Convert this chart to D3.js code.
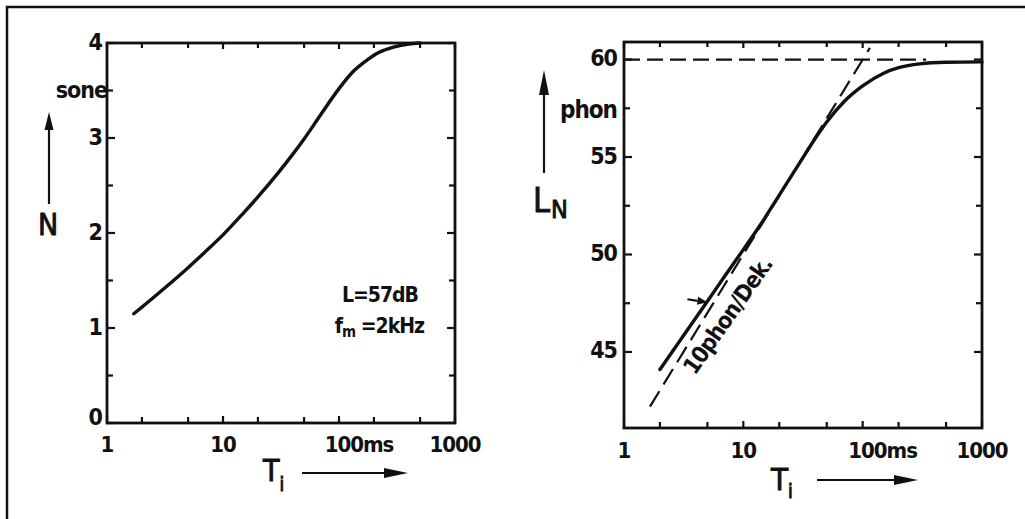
<!DOCTYPE html>
<html><head><meta charset="utf-8">
<script src="https://cdn.jsdelivr.net/npm/d3@7"></script>
<style>
body{margin:0;background:#fff}
svg{display:block}
text{font-family:"DejaVu Sans Condensed","DejaVu Sans",sans-serif;font-stretch:condensed;font-weight:bold;fill:#111}
text.sym{font-weight:normal;stroke:#111;stroke-width:0.9px}
</style></head><body>
<svg id="fig" width="1025" height="519"></svg>
<script>
// Loudness N (sone) versus integration time T_i, L = 57 dB, f_m = 2 kHz
const loudT = [1.7, 2, 3, 5, 7, 10, 15, 20, 30, 40, 50, 70, 100, 130, 170, 220, 300, 400, 500];
const loudN = [1.15, 1.22, 1.40, 1.635, 1.80, 1.98, 2.21, 2.38, 2.635, 2.83, 2.99, 3.25, 3.52, 3.69, 3.81, 3.90, 3.96, 3.99, 4.0];
// Loudness level L_N (phon) versus integration time
const levelT = [2, 3, 5, 7, 10, 14, 20, 30, 40, 50, 70, 100, 150, 200, 300, 500, 1000];
const levelL = [44.1, 45.65, 47.6, 48.9, 50.25, 51.55, 53.05, 54.75, 55.95, 56.8, 57.85, 58.65, 59.3, 59.58, 59.78, 59.86, 59.88];
// 60 phon asymptote and the 10 phon/decade slope line
const asymptoteL = 60, asymptoteEndT = 340;
const slopeT = [1.65, 115];
const slopeL = [42.2, 60.6];
// marker arrow pointing at the curve
const markerT = [3.4, 5.0], markerL = 47.6;

const xTicksMajor = [1, 10, 100, 1000];
const xTickLabels = ["1", "10", "100ms", "1000"];
const xTicksMinor = [2, 5, 20, 50, 200, 500];
const loudTicks = [0, 1, 2, 3, 4];
const loudMinor = [0.5, 1.5, 2.5, 3.5];
const levelTicks = [45, 50, 55, 60];
const levelMinor = [47.5, 52.5, 57.5];

const ink = "#111";
const svg = d3.select("#fig");

// outer frame (top and left edges)
svg.append("path").attr("d", "M7,519V7H1025")
  .attr("fill", "none").attr("stroke", ink).attr("stroke-width", 2.5);

function arrow(g, x1, y1, x2, y2, headLen, headW) {
  const a = Math.atan2(y2 - y1, x2 - x1);
  const bx = x2 - headLen * Math.cos(a), by = y2 - headLen * Math.sin(a);
  g.append("line").attr("x1", x1).attr("y1", y1).attr("x2", bx).attr("y2", by)
    .attr("stroke", ink).attr("stroke-width", 2.2);
  const px = -Math.sin(a) * headW / 2, py = Math.cos(a) * headW / 2;
  g.append("path").attr("d", `M${x2},${y2}L${bx + px},${by + py}L${bx - px},${by - py}Z`).attr("fill", ink);
}

function panel(opt) {
  const g = svg.append("g");
  const x = d3.scaleLog().domain([1, 1000]).range([opt.x0, opt.x1]);
  const y = d3.scaleLinear().domain(opt.yDomain).range([opt.y1, opt.y0]);

  // ticks on all four sides, pointing inward
  const tk = g.append("g").attr("stroke", ink).attr("stroke-width", 2.2);
  xTicksMajor.concat(xTicksMinor).forEach(v => {
    const len = xTicksMajor.includes(v) ? 7 : 6;
    tk.append("line").attr("x1", x(v)).attr("x2", x(v)).attr("y1", opt.y1).attr("y2", opt.y1 - len);
    tk.append("line").attr("x1", x(v)).attr("x2", x(v)).attr("y1", opt.y0).attr("y2", opt.y0 + len - 1);
  });
  opt.yTicks.concat(opt.yMinor).forEach(v => {
    const len = opt.yTicks.includes(v) ? 8 : 6;
    tk.append("line").attr("y1", y(v)).attr("y2", y(v)).attr("x1", opt.x0).attr("x2", opt.x0 + len);
    tk.append("line").attr("y1", y(v)).attr("y2", y(v)).attr("x1", opt.x1).attr("x2", opt.x1 - len);
  });

  g.append("rect").attr("x", opt.x0).attr("y", opt.y0)
    .attr("width", opt.x1 - opt.x0).attr("height", opt.y1 - opt.y0)
    .attr("fill", "none").attr("stroke", ink).attr("stroke-width", 2.8);

  // tick labels
  xTicksMajor.forEach((v, i) => {
    g.append("text").attr("x", x(v) + (i === 2 ? 20 : 0)).attr("y", opt.xLabelY)
      .attr("text-anchor", "middle").attr("font-size", 22).attr("letter-spacing", -1)
      .text(xTickLabels[i]);
  });
  opt.yTicks.forEach(v => {
    g.append("text").attr("x", opt.x0 - opt.yLabelGap).attr("y", y(v) + opt.yLabelDy(v))
      .attr("text-anchor", "end").attr("dominant-baseline", "middle")
      .attr("font-size", 23).attr("letter-spacing", -1).text(v);
  });
  return {g, x, y};
}

// ---- left panel: loudness in sone ----
const L = panel({x0: 107, x1: 455, y0: 43, y1: 423, yDomain: [0, 4],
  yTicks: loudTicks, yMinor: loudMinor, xLabelY: 452, yLabelGap: 5,
  yLabelDy: v => v === 0 ? -5 : 0});

L.g.append("path")
  .datum(loudT.map((t, i) => [t, loudN[i]]))
  .attr("d", d3.line().x(d => L.x(d[0])).y(d => L.y(d[1])).curve(d3.curveMonotoneX))
  .attr("fill", "none").attr("stroke", ink).attr("stroke-width", 3.4).attr("stroke-linecap", "round");

L.g.append("text").attr("x", 107).attr("y", 98).attr("text-anchor", "end")
  .attr("font-size", 23).attr("letter-spacing", -1).text("sone");
L.g.append("text").attr("class", "sym").attr("x", 48).attr("y", 235).attr("text-anchor", "middle")
  .attr("font-size", 30).text("N");
arrow(L.g, 49, 204, 49, 112, 18, 9);

L.g.append("text").attr("x", 418).attr("y", 302).attr("text-anchor", "end")
  .attr("font-size", 21).attr("letter-spacing", -1).text("L=57dB");
const fm = L.g.append("text").attr("x", 424).attr("y", 333).attr("text-anchor", "end")
  .attr("font-size", 21).attr("letter-spacing", -1);
fm.append("tspan").text("f");
fm.append("tspan").attr("font-size", 15).attr("dy", 4).text("m");
fm.append("tspan").attr("dy", -4).text(" =2kHz");

const ti1 = L.g.append("text").attr("class", "sym").attr("x", 263).attr("y", 481).attr("font-size", 30);
ti1.append("tspan").text("T");
ti1.append("tspan").attr("font-size", 19).attr("dy", 10).attr("dx", 0).text("i");
arrow(L.g, 302, 473, 408, 473, 24, 10);

// ---- right panel: loudness level in phon ----
const R = panel({x0: 624, x1: 982, y0: 42, y1: 428, yDomain: [41.1, 60.9],
  yTicks: levelTicks, yMinor: levelMinor, xLabelY: 458, yLabelGap: 7,
  yLabelDy: () => 0});

R.g.append("line")
  .attr("x1", R.x(1)).attr("x2", R.x(asymptoteEndT))
  .attr("y1", R.y(asymptoteL)).attr("y2", R.y(asymptoteL))
  .attr("stroke", ink).attr("stroke-width", 2.2).attr("stroke-dasharray", "16,7");

R.g.append("line")
  .attr("x1", R.x(slopeT[0])).attr("y1", R.y(slopeL[0]))
  .attr("x2", R.x(slopeT[1])).attr("y2", R.y(slopeL[1]))
  .attr("stroke", ink).attr("stroke-width", 2.2).attr("stroke-dasharray", "18,8");

R.g.append("path")
  .datum(levelT.map((t, i) => [t, levelL[i]]))
  .attr("d", d3.line().x(d => R.x(d[0])).y(d => R.y(d[1])).curve(d3.curveMonotoneX))
  .attr("fill", "none").attr("stroke", ink).attr("stroke-width", 3.4).attr("stroke-linecap", "round");

arrow(R.g, R.x(markerT[0]), R.y(markerL) - 2, R.x(markerT[1]), R.y(markerL) + 1, 10, 8);

R.g.append("text")
  .attr("transform", "translate(695,376) rotate(-55)")
  .attr("font-size", 23).attr("letter-spacing", -1).text("10phon/Dek.");

R.g.append("text").attr("x", 617).attr("y", 118).attr("text-anchor", "end")
  .attr("font-size", 24).attr("letter-spacing", -1).text("phon");
const ln = R.g.append("text").attr("class", "sym").attr("x", 533).attr("y", 212).attr("font-size", 34);
ln.append("tspan").text("L");
ln.append("tspan").attr("font-size", 25).attr("dy", 6).attr("dx", 1).text("N");
arrow(R.g, 544, 173, 544, 70, 25, 10);

const ti2 = R.g.append("text").attr("class", "sym").attr("x", 771).attr("y", 490).attr("font-size", 31);
ti2.append("tspan").text("T");
ti2.append("tspan").attr("font-size", 19).attr("dy", 8).attr("dx", 0).text("i");
arrow(R.g, 817, 480, 918, 480, 24, 10);
</script>
</body></html>
